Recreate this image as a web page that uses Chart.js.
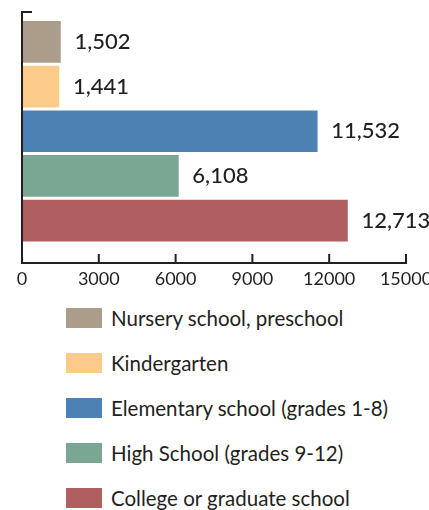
<!DOCTYPE html>
<html>
<head>
<meta charset="utf-8">
<script src="https://cdn.jsdelivr.net/npm/chart.js@4.4.1/dist/chart.umd.min.js"></script>
<style>
  html, body { margin: 0; padding: 0; background: #fff; }
  body { width: 429px; height: 510px; overflow: hidden; font-family: Lato, sans-serif; color: #231f20; }
  #wrap { position: relative; width: 429px; height: 295px; }
  #legend { list-style: none; margin: 0; padding: 0; }
  #legend li { display: flex; align-items: center; height: 45px; padding-left: 66px; font-size: 20.5px; }
  #legend .swatch { width: 36px; height: 20px; margin-right: 9px; flex: none; }
</style>
</head>
<body>
<div id="wrap"><canvas id="chart"></canvas></div>
<ul id="legend"></ul>
<script>
const categories = [
  "Nursery school, preschool",
  "Kindergarten",
  "Elementary school (grades 1-8)",
  "High School (grades 9-12)",
  "College or graduate school"
];
const enrollment = [1502, 1441, 11532, 6108, 12713];
const barColors = ["#ab9d8a", "#fdcb89", "#4e81b3", "#7aa794", "#b05f60"];
const xTicks = [0, 3000, 6000, 9000, 12000, 15000];

const ink = "#231f20";

// legend below the canvas, one row per category
const legendEl = document.getElementById("legend");
categories.forEach((name, i) => {
  const li = document.createElement("li");
  li.innerHTML = `<span class="swatch" style="background:${barColors[i]}"></span><span>${name}</span>`;
  legendEl.appendChild(li);
});

const decorations = {
  id: "decorations",
  afterDraw(chart) {
    const { ctx, chartArea, scales: { x } } = chart;
    ctx.save();
    ctx.strokeStyle = ink;
    ctx.lineWidth = 2;
    ctx.beginPath();
    // tick marks point up into the plot
    x.ticks.forEach(t => {
      const px = x.getPixelForValue(t.value);
      ctx.moveTo(px, chartArea.bottom);
      ctx.lineTo(px, chartArea.bottom - 9);
    });
    // little cap on top of the category axis
    ctx.moveTo(chartArea.left, chartArea.top);
    ctx.lineTo(chartArea.left + 10, chartArea.top);
    ctx.stroke();

    ctx.fillStyle = ink;
    ctx.font = "500 22px Lato";
    ctx.textAlign = "left";
    ctx.textBaseline = "middle";
    chart.getDatasetMeta(0).data.forEach((bar, i) => {
      ctx.fillText(enrollment[i].toLocaleString("en-US"), bar.x + 14, bar.y);
    });
    ctx.restore();
  }
};

new Chart(document.getElementById("chart"), {
  type: "bar",
  data: {
    datasets: [{
      data: enrollment.map((v, i) => ({ x: v, y: i })),
      backgroundColor: barColors,
      borderWidth: 0,
      barThickness: 41
    }]
  },
  options: {
    indexAxis: "y",
    responsive: true,
    maintainAspectRatio: false,
    animation: false,
    layout: { padding: { left: 22, right: 23, top: 12, bottom: 0 } },
    plugins: { legend: { display: false }, tooltip: { enabled: false } },
    scales: {
      x: {
        type: "linear",
        min: 0,
        max: 15000,
        afterBuildTicks: s => { s.ticks = xTicks.map(v => ({ value: v })); },
        afterFit: s => { s.paddingLeft = 0; s.paddingRight = 0; s.height = 32; },
        grid: { display: false, drawTicks: false },
        border: { display: true, color: ink, width: 2, z: 1 },
        ticks: {
          color: ink,
          font: { family: "Lato", size: 18 },
          padding: 5,
          maxRotation: 0,
          autoSkip: false,
          callback: v => String(v)
        }
      },
      y: {
        type: "linear",
        reverse: true,
        offset: false,
        min: -0.67,
        max: 4.95,
        grid: { display: false, drawTicks: false, offset: false },
        border: { display: true, color: ink, width: 2, z: 1 },
        ticks: { display: false }
      }
    }
  },
  plugins: [decorations]
});
</script>
</body>
</html>
